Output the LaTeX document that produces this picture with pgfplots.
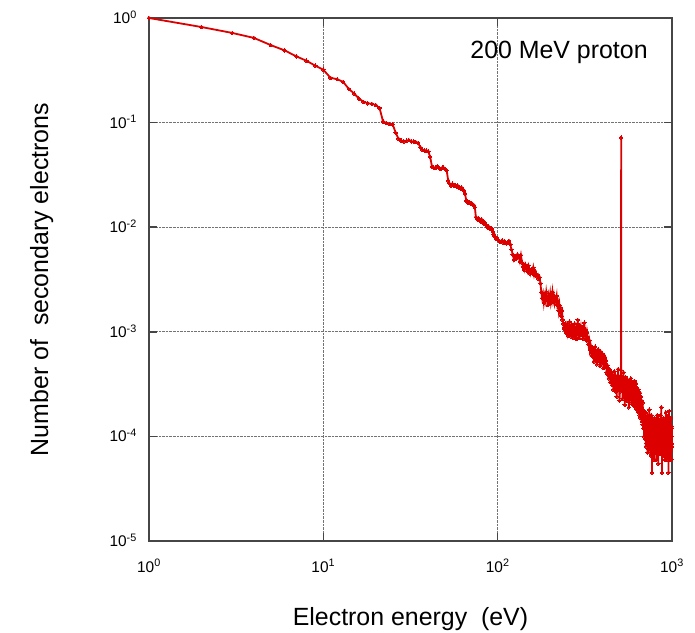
\documentclass[border=0pt]{standalone}
\usepackage{fontspec}
\setmainfont{Liberation Sans}
\usepackage{pgfplots}
\pgfplotsset{compat=1.18}
\definecolor{curve}{RGB}{220,0,0}
\definecolor{axisgray}{RGB}{70,70,70}
\newcommand{\tickfont}{\fontsize{15.5}{18}\selectfont}
\begin{document}
\begin{tikzpicture}
\path[use as bounding box] (-149bp,-92bp) rectangle (546bp,541bp);
\begin{loglogaxis}[
  at={(0,0)}, anchor=south west,
  scale only axis, width=523bp, height=523bp,
  xmin=1, xmax=1000, ymin=1e-5, ymax=1,
  xtick={1,10,100,1000},
  xticklabels={{\tickfont 10\textsuperscript{0}},{\tickfont 10\textsuperscript{1}},{\tickfont 10\textsuperscript{2}},{\tickfont 10\textsuperscript{3}}},
  ytick={1e-5,1e-4,1e-3,1e-2,1e-1,1},
  yticklabels={{\tickfont 10\textsuperscript{-5}},{\tickfont 10\textsuperscript{-4}},{\tickfont 10\textsuperscript{-3}},{\tickfont 10\textsuperscript{-2}},{\tickfont 10\textsuperscript{-1}},{\tickfont 10\textsuperscript{0}}},
  xticklabel style={anchor=base, inner sep=0pt, yshift=-31bp},
  yticklabel style={anchor=base east, inner sep=0pt, xshift=-12bp, yshift=-5.5bp},
  tick align=inside, major tick length=8bp, minor tick length=0pt,
  tick style={axisgray, line width=1.6bp},
  axis line style={axisgray, line width=1.6bp},
  grid=major,
  major grid style={densely dotted, black!55, line width=1.1bp},
  xlabel={Electron energy\ \ (eV)},
  ylabel={Number of\ \ secondary electrons},
  label style={font=\fontsize{25}{30}\selectfont},
  xlabel style={at={(axis description cs:0.5,-0.1606)}, anchor=base, inner sep=0pt},
  ylabel style={at={(axis description cs:-0.1931,0.5)}, anchor=base, inner sep=0pt},
  clip=false,
]
\addplot[color=curve, line width=1.8bp, mark=*, mark size=1.8bp, mark options={fill=curve, draw=curve, line width=0pt}] coordinates {
(1,1.0)(2,0.82)(3,0.72)(4,0.645)(5,0.55)(6,0.49)(7,0.43)(8,0.39)(9,0.35)(10,0.32)
(11,0.268)(12,0.26)(13,0.245)(14,0.21)(15,0.19)(16,0.17)(17,0.158)(18,0.153)(19,0.151)(20,0.147)
(21,0.138)(22,0.103)(23,0.099)(24,0.097)(25,0.096)(26,0.08)(27,0.07)(28,0.067)(29,0.066)(30,0.067)
(31,0.068)(32,0.066)(33,0.066)(34,0.065)(35,0.064)(36,0.058)(37,0.055)(38,0.054)(39,0.054)(40,0.053)
(41,0.047)(42,0.038)(43,0.037)(44,0.037)(45,0.038)(46,0.037)(47,0.036)(48,0.037)(49,0.037)(50,0.036)
(51,0.035)(52,0.028)(53,0.026)(54,0.025)(55,0.026)(56,0.025)(57,0.025)(58,0.0245)(59,0.025)(60,0.024)
(61,0.0235)(62,0.024)(63,0.023)(64,0.0225)(65,0.021)(66,0.018)(67,0.0175)(68,0.017)(69,0.0172)(70,0.0168)
(71,0.017)(72,0.0165)(73,0.0163)(74,0.0155)(75,0.0125)(76,0.0122)(77,0.0118)(78,0.0121)(79,0.0116)(80,0.0113)
(81,0.0118)(82,0.0112)(83,0.0109)(84,0.0112)(85,0.0106)(86,0.0104)(87,0.0101)(88,0.0099)(89,0.0101)(90,0.0097)
(91,0.0098)(92,0.0097)(93,0.0095)(94,0.0090)(95,0.0086)(96,0.0082)(97,0.0081)(98,0.0078)(99,0.0079)(100,0.0076)
(102,0.0074)(104,0.0072)(106,0.0075)(108,0.0071)(110,0.0073)(112,0.0070)(114,0.0072)(116,0.0074)(118,0.0069)(120,0.0061)
(122,0.0055)(124,0.0049)(126,0.0053)(128,0.0050)(130,0.0055)(132,0.0052)(134,0.0047)(136,0.0054)(138,0.0046)(140,0.0042)
(142,0.0039)(144,0.0044)(146,0.0041)(148,0.0038)(150,0.0043)(152,0.0040)(154,0.0036)(156,0.0039)(158,0.0037)(160,0.0041)
(162,0.0035)(164,0.0038)(166,0.0036)(168,0.0034)(170,0.0035)(172,0.0032)(174,0.0033)(176,0.0029)(178,0.0024)(180,0.0021)
(182,0.0023)(184,0.0019)(186,0.0022)(188,0.0020)(190,0.0024)(192,0.0021)(194,0.0018)(196,0.0022)(198,0.0020)(200,0.0023)
(202,0.0019)(204,0.0021)(206,0.0024)(208,0.0020)(210,0.0022)(212,0.0019)(214,0.0021)(216,0.0020)(218,0.0022)(220,0.0018)
(222,0.0019)(224,0.0016)(226,0.0018)(228,0.0015)(230,0.0017)(232,0.0014)(234,0.0016)(236,0.0013)(238,0.0012)(240,0.0011)
(242,0.00105)(244,0.0012)(246,0.00098)(248,0.0011)(250,0.0010)(252,0.00115)(254,0.00092)(256,0.0011)(258,0.00125)(260,0.00095)
(262,0.00108)(264,0.0009)(266,0.00118)(268,0.00102)(270,0.00088)(272,0.0011)(274,0.00097)(276,0.0012)(278,0.00093)(280,0.00105)
(282,0.00085)(284,0.00112)(286,0.00098)(288,0.0013)(290,0.00092)(292,0.00104)(294,0.00087)(296,0.00116)(298,0.00099)(300,0.00108)
(302,0.00094)(305,0.0011)(308,0.00086)(311,0.00102)(314,0.00122)(317,0.0009)(320,0.00105)(323,0.00083)(326,0.00098)(329,0.00088)
(332,0.00076)(335,0.00082)(338,0.00068)(341,0.00074)(344,0.00062)(347,0.00071)(350,0.00058)(353,0.00066)(356,0.00052)(359,0.00061)
(362,0.00072)(365,0.00055)(368,0.00063)(371,0.00049)(374,0.00058)(377,0.00068)(380,0.00053)(383,0.0006)(386,0.00047)(389,0.00065)
(392,0.00056)(395,0.0005)(398,0.00062)(401,0.00054)(404,0.00045)(407,0.0006)(410,0.00051)(413,0.00057)(416,0.00046)(419,0.00053)
(422,0.00041)(425,0.00048)(428,0.00039)(431,0.00045)(434,0.00036)(437,0.00044)(440,0.0004)(443,0.00033)(446,0.00042)(449,0.00037)
(452,0.00031)(455,0.00039)(458,0.00034)(461,0.00028)(464,0.00036)(467,0.00042)(470,0.00031)(473,0.00027)(476,0.00038)(479,0.00033)
(482,0.00024)(485,0.00035)(488,0.0003)(491,0.00044)(494,0.00028)(497,0.00034)(500,0.00022)(503,0.00032)(506,0.00038)(509,0.00027)
(510,0.00043)(511,0.072)(512,0.00035)(515,0.00029)(518,0.00036)(521,0.00023)(524,0.00031)(527,0.00041)(530,0.00026)(533,0.00033)
(536,0.0002)(539,0.0003)(542,0.00037)(545,0.00025)(548,0.00032)(551,0.00022)(554,0.00029)(557,0.00035)(560,0.00024)(563,0.00031)
(566,0.00019)(569,0.00027)(572,0.00034)(575,0.00023)(578,0.00029)(581,0.00036)(584,0.00021)(587,0.00028)(590,0.00024)(593,0.00033)
(596,0.0002)(599,0.00027)(600,0.00026)(602,0.00031)(604,0.00022)(606,0.00028)(608,0.00034)(610,0.0002)(612,0.00027)(614,0.00023)
(616,0.0003)(618,0.00019)(620,0.00026)(622,0.00032)(624,0.00021)(626,0.00025)(628,0.00018)(630,0.00029)(632,0.00023)(634,0.00027)
(636,0.0002)(638,0.00024)(640,0.00017)(642,0.00028)(644,0.00021)(646,0.00025)(648,0.00019)(650,0.00023)(652,0.00016)(654,0.00022)
(656,0.00026)(658,0.00018)(660,0.00021)(662,0.00015)(664,0.00024)(666,0.00019)(668,0.00017)(670,0.00022)(672,0.00014)(674,0.00019)
(676,0.00016)(678,0.00021)(680,0.00013)(682,0.00018)(684,0.00015)(686,0.00012)(688,0.00017)(690,0.00014)(692,0.0001)(694,0.00016)
(696,0.00012)(698,0.00015)(700,0.000095)(702,0.00014)(704,0.00011)(706,0.00017)(708,0.00008)(710,0.00013)(712,0.0001)(714,0.00012)
(716,0.000085)(718,0.00015)(720,0.0001)(722,0.00013)(724,0.00007)(726,0.00011)(728,0.00016)(730,0.000088)(732,0.00012)(734,0.000075)
(736,0.00014)(738,0.0001)(740,0.00018)(742,0.000082)(744,0.00012)(746,0.000095)(748,0.00015)(750,0.00007)(752,0.00011)(754,0.00013)
(756,0.000085)(758,0.0001)(760,0.00016)(762,0.000065)(764,0.00011)(766,0.00009)(768,0.000045)(770,0.00012)(772,0.000095)(774,0.00014)
(776,0.00007)(778,0.00011)(780,0.000085)(782,0.00013)(784,0.00009)(786,0.00011)(788,0.00006)(790,0.000125)(792,0.0001)(794,0.00015)
(796,0.00008)(798,0.00012)(800,0.000095)(802,0.00014)(804,0.00007)(806,0.00011)(808,0.000088)(810,0.00013)(812,0.00006)(814,0.0001)
(816,0.000145)(818,0.00008)(820,0.00012)(822,0.000095)(824,0.00016)(826,0.000072)(828,0.00011)(830,0.000085)(832,0.00013)(834,0.000055)
(836,0.0001)(838,0.00012)(840,0.00008)(842,0.000145)(844,0.000095)(846,0.000068)(848,0.00011)(850,0.000088)(852,0.00013)(854,0.000075)
(856,0.00012)(858,0.0001)(860,0.00016)(862,0.00007)(864,0.000115)(866,0.000092)(868,0.00019)(870,0.00008)(872,0.000125)(874,0.0001)
(876,0.000045)(878,0.00011)(880,0.00009)(882,0.00014)(884,0.000075)(886,0.00012)(888,0.000095)(890,0.000065)(892,0.00011)(894,0.00015)
(896,0.000085)(898,0.00012)(900,0.0001)(902,0.00007)(904,0.00013)(906,0.00009)(908,0.000115)(910,0.00006)(912,0.0001)(914,0.00014)
(916,0.00008)(918,0.00012)(920,0.000095)(922,0.00017)(924,0.000072)(926,0.00011)(928,0.000088)(930,0.000135)(932,0.00006)(934,0.000105)
(936,0.00013)(938,0.000078)(940,0.00012)(942,0.000095)(944,0.000155)(946,0.00007)(948,0.00011)(950,0.000085)(952,0.00013)(954,0.000045)
(956,0.0001)(958,0.00012)(960,0.00008)(962,0.000175)(964,0.00009)(966,0.00012)(968,0.000065)(970,0.00011)(972,0.000145)(974,0.00008)
(976,0.000125)(978,0.00006)(980,0.0001)(982,0.00015)(984,0.000075)(986,0.00011)(988,0.00009)(990,0.000125)(992,0.00006)(994,0.0001)
(996,0.000085)(998,0.00012)(1000,0.00008)
};
\node[anchor=base, inner sep=0pt, font=\fontsize{25}{30}\selectfont] at (axis description cs:0.784,0.9235) {200 MeV proton};
\end{loglogaxis}
\end{tikzpicture}
\end{document}
